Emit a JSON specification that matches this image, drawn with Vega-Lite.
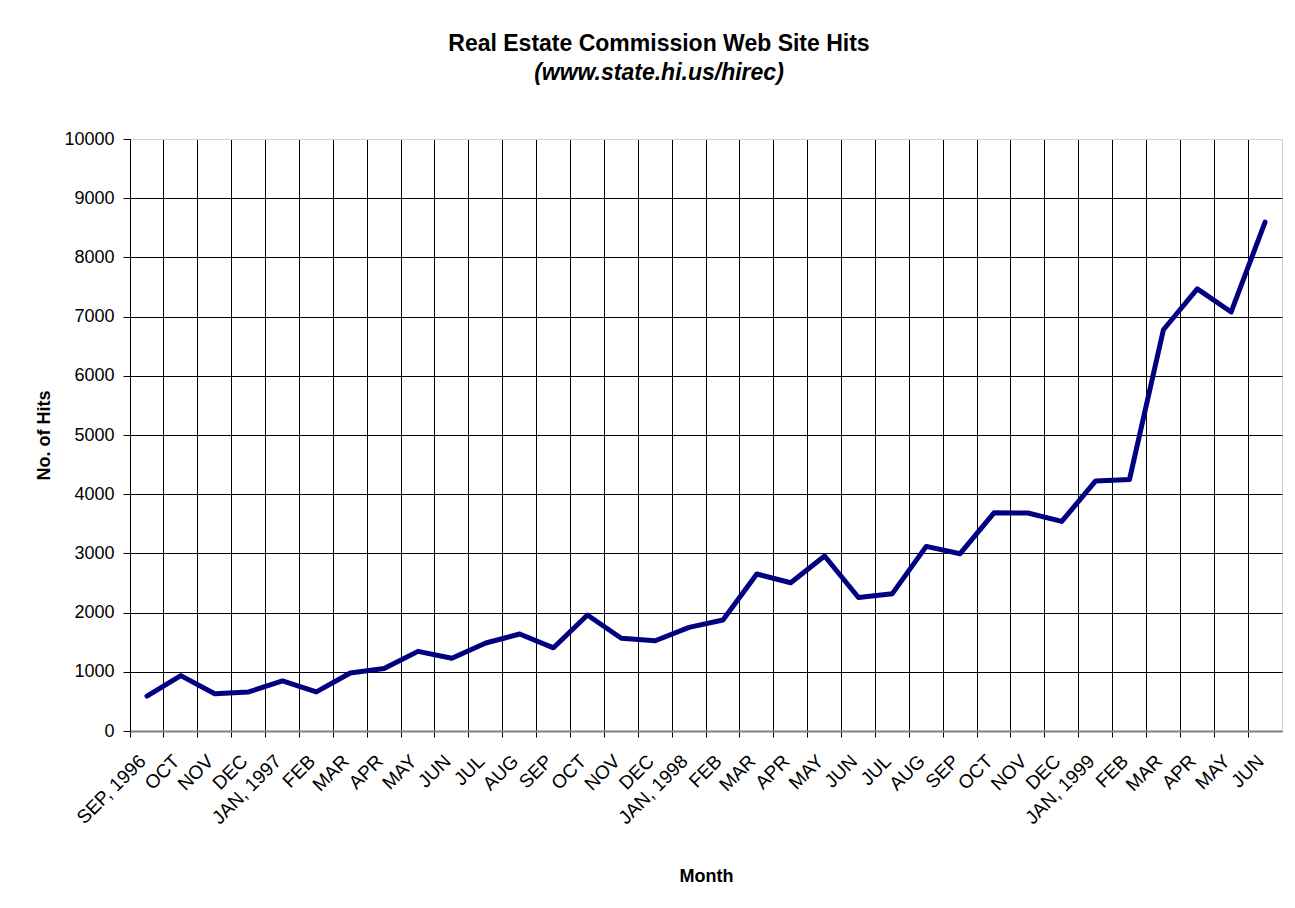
{
  "$schema": "https://vega.github.io/schema/vega-lite/v6.json",
  "width": 1152,
  "height": 592,
  "autosize": {"type": "none"},
  "padding": {"left": 130, "top": 139, "right": 13, "bottom": 177},
  "background": "white",
  "config": {
    "font": "Liberation Sans",
    "view": {"stroke": "#d0d0d0", "strokeWidth": 1}
  },
  "title": {
    "text": "Real Estate Commission Web Site Hits",
    "subtitle": "(www.state.hi.us/hirec)",
    "anchor": "middle",
    "frame": "bounds",
    "offset": 45,
    "font": "Liberation Sans",
    "fontSize": 23,
    "fontWeight": "bold",
    "color": "black",
    "subtitleFont": "Liberation Sans",
    "subtitleFontSize": 23,
    "subtitleFontWeight": "bold",
    "subtitleFontStyle": "italic",
    "subtitleColor": "black",
    "subtitlePadding": 6
  },
  "data": {
    "values": [
      {"month": "1996-09", "hits": 590},
      {"month": "1996-10", "hits": 935},
      {"month": "1996-11", "hits": 630},
      {"month": "1996-12", "hits": 660},
      {"month": "1997-01", "hits": 845},
      {"month": "1997-02", "hits": 660},
      {"month": "1997-03", "hits": 980},
      {"month": "1997-04", "hits": 1055},
      {"month": "1997-05", "hits": 1345},
      {"month": "1997-06", "hits": 1230},
      {"month": "1997-07", "hits": 1486},
      {"month": "1997-08", "hits": 1638},
      {"month": "1997-09", "hits": 1405},
      {"month": "1997-10", "hits": 1960},
      {"month": "1997-11", "hits": 1567},
      {"month": "1997-12", "hits": 1525},
      {"month": "1998-01", "hits": 1750},
      {"month": "1998-02", "hits": 1875},
      {"month": "1998-03", "hits": 2652},
      {"month": "1998-04", "hits": 2505},
      {"month": "1998-05", "hits": 2956},
      {"month": "1998-06", "hits": 2255},
      {"month": "1998-07", "hits": 2320},
      {"month": "1998-08", "hits": 3118},
      {"month": "1998-09", "hits": 2995},
      {"month": "1998-10", "hits": 3685},
      {"month": "1998-11", "hits": 3682},
      {"month": "1998-12", "hits": 3540},
      {"month": "1999-01", "hits": 4225},
      {"month": "1999-02", "hits": 4250},
      {"month": "1999-03", "hits": 6778},
      {"month": "1999-04", "hits": 7468},
      {"month": "1999-05", "hits": 7078},
      {"month": "1999-06", "hits": 8597}
    ]
  },
  "layer": [
    {
      "mark": {"type": "line", "opacity": 0},
      "encoding": {
        "x": {
          "field": "month",
          "type": "nominal",
          "scale": {"type": "band", "paddingInner": 0, "paddingOuter": 0},
          "axis": {
            "orient": "bottom",
            "title": null,
            "labels": false,
            "bandPosition": 0,
            "ticks": true,
            "tickSize": 6,
            "tickColor": "black",
            "tickWidth": 1,
            "grid": true,
            "gridColor": "black",
            "gridWidth": 1,
            "gridOpacity": 1,
            "domain": true,
            "domainColor": "#808080",
            "domainWidth": 2
          }
        },
        "y": {
          "field": "hits",
          "type": "quantitative",
          "scale": {"domain": [0, 10000], "nice": false},
          "axis": {
            "title": "No. of Hits",
            "titleFont": "Liberation Sans",
            "titleFontSize": 18,
            "titleFontWeight": "bold",
            "titleColor": "black",
            "titlePadding": 10,
            "values": [0, 1000, 2000, 3000, 4000, 5000, 6000, 7000, 8000, 9000, 10000],
            "format": "d",
            "labelFont": "Liberation Sans",
            "labelFontSize": 18,
            "labelColor": "black",
            "labelPadding": 9,
            "tickSize": 7,
            "tickColor": "black",
            "grid": true,
            "gridColor": {"condition": {"test": "datum.value >= 10000", "value": "#d0d0d0"}, "value": "black"},
            "gridWidth": 1,
            "gridOpacity": 1,
            "domainColor": "black",
            "domainWidth": 1
          }
        }
      }
    },
    {
      "mark": {
        "type": "line",
        "color": "#000080",
        "strokeWidth": 5,
        "strokeCap": "round",
        "strokeJoin": "round"
      },
      "encoding": {
        "x": {
          "field": "month",
          "type": "nominal",
          "axis": {
            "orient": "bottom",
            "title": "Month",
            "titleFont": "Liberation Sans",
            "titleFontSize": 18,
            "titleFontWeight": "bold",
            "titleColor": "black",
            "titleY": 136,
            "labelExpr": "['JAN','FEB','MAR','APR','MAY','JUN','JUL','AUG','SEP','OCT','NOV','DEC'][toNumber(slice(datum.value,5,7))-1] + ((slice(datum.value,5,7)=='01' || datum.value=='1996-09') ? ', ' + slice(datum.value,0,4) : '')",
            "labelAngle": -45,
            "labelAlign": "right",
            "labelBaseline": "alphabetic",
            "labelFont": "Liberation Sans",
            "labelFontSize": 19,
            "labelColor": "black",
            "labelPadding": 25,
            "labelOverlap": false,
            "ticks": true,
            "tickSize": 6,
            "tickOpacity": 0,
            "grid": false,
            "domain": false
          }
        },
        "y": {
          "field": "hits",
          "type": "quantitative"
        }
      }
    }
  ],
  "resolve": {"axis": {"x": "independent"}}
}
